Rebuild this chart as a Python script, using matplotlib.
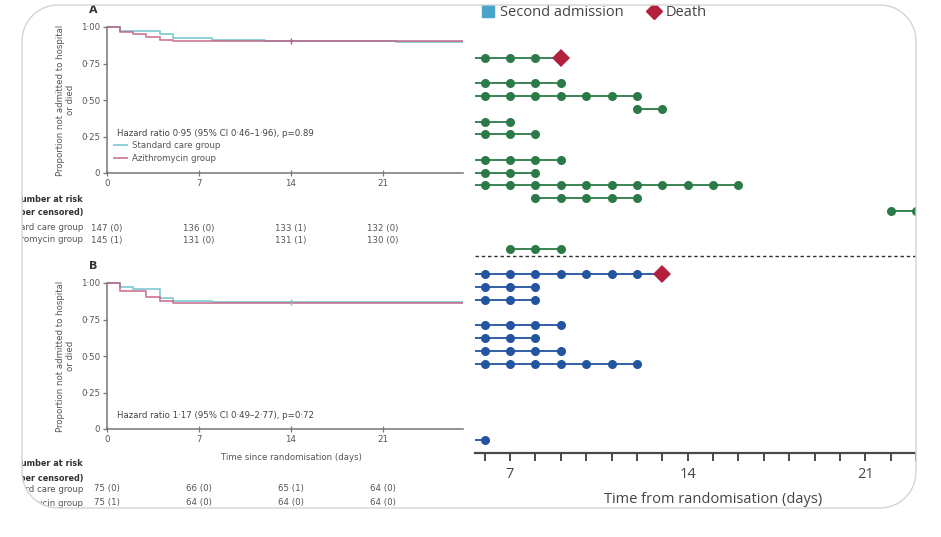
import numpy as np
import matplotlib
matplotlib.use('Agg')
import matplotlib.pyplot as plt
from matplotlib.lines import Line2D
from matplotlib.patches import Polygon, PathPatch
from matplotlib.path import Path
import matplotlib.transforms as mtrans

# ---------------- data ----------------
# Kaplan-Meier, panel A
A_std_t = [0, 1, 4, 5, 8, 12, 22, 28]
A_std_s = [1.0, 0.975, 0.95, 0.925, 0.912, 0.905, 0.895, 0.895]
A_azi_t = [0, 1, 2, 3, 4, 5, 28]
A_azi_s = [1.0, 0.967, 0.952, 0.932, 0.912, 0.903, 0.903]
# panel B
B_std_t = [0, 1, 2, 4, 5, 8, 28]
B_std_s = [1.0, 0.973, 0.957, 0.90, 0.88, 0.867, 0.867]
B_azi_t = [0, 1, 3, 4, 5, 28]
B_azi_s = [1.0, 0.946, 0.905, 0.878, 0.862, 0.862]

risk_days = [0, 7, 14, 21]
A_std_risk = ['147 (0)', '136 (0)', '133 (1)', '132 (0)']
A_azi_risk = ['145 (1)', '131 (0)', '131 (1)', '130 (0)']
B_std_risk = ['75 (0)', '66 (0)', '65 (1)', '64 (0)']
B_azi_risk = ['75 (1)', '64 (0)', '64 (0)', '64 (0)']

A_hr = 'Hazard ratio 0·95 (95% CI 0·46–1·96), p=0.89'
B_hr = 'Hazard ratio 1·17 (95% CI 0·49–2·77), p=0·72'

# swimmer plot (row index, line start day, visit days, death day)
green_rows = [0, 2, 3, 4, 5, 6, 8, 9, 10, 11, 12, 15]
green_start = [5, 5, 5, 12, 5, 5, 5, 5, 5, 8, 22, 7]
green_visits = [[6, 7, 8], [6, 7, 8, 9], [6, 7, 8, 9, 10, 11, 12], [12, 13],
                [6, 7], [6, 7, 8], [6, 7, 8, 9], [6, 7, 8],
                [6, 7, 8, 9, 10, 11, 12, 13, 14, 15, 16], [8, 9, 10, 11, 12],
                [22, 23], [7, 8, 9]]
green_death = [9, None, None, None, None, None, None, None, None, None, None, None]

blue_rows = [17, 18, 19, 21, 22, 23, 24, 30]
blue_start = [5, 5, 5, 5, 5, 5, 5, 5]
blue_visits = [[6, 7, 8, 9, 10, 11, 12], [6, 7, 8], [6, 7, 8], [6, 7, 8, 9],
               [6, 7, 8], [6, 7, 8, 9], [6, 7, 8, 9, 10, 11, 12], [6]]
blue_death = [13, None, None, None, None, None, None, None]
divider_row = 15.55

# ---------------- figure ----------------
W, H = 941, 537
fig = plt.figure(figsize=(W / 100, H / 100), dpi=100)

def box(l, t, r, b):
    return [l / W, 1 - b / H, (r - l) / W, (b - t) / H]

def fy(y):
    return 1 - y / H

NARROW = ['Liberation Sans Narrow', 'DejaVu Sans']
SANS = ['Open Sans', 'DejaVu Sans']
FS = 6.2
c_std = '#72c4cd'
c_azi = '#c0557a'
c_ax = '#777777'

# rounded frame (pixel coords, display origin bottom-left)
def rounded(l, t, r, b, rad, n=16):
    pts = []
    corners = [(r - rad, H - t - rad, 0), (l + rad, H - t - rad, 90),
               (l + rad, H - b + rad, 180), (r - rad, H - b + rad, 270)]
    for cx, cy, a0 in corners:
        ang = np.radians(np.linspace(a0, a0 + 90, n))
        pts += list(zip(cx + rad * np.cos(ang), cy + rad * np.sin(ang)))
    return np.array(pts)

inner = rounded(22, 5, 916, 508, 36)                # counter-clockwise
outer = np.array([[0, 0], [0, H], [W, H], [W, 0]])  # clockwise
verts = np.vstack([outer, outer[:1], inner, inner[:1]])
codes = ([Path.MOVETO] + [Path.LINETO] * 3 + [Path.CLOSEPOLY] +
         [Path.MOVETO] + [Path.LINETO] * (len(inner) - 1) + [Path.CLOSEPOLY])
mask = PathPatch(Path(verts, codes), facecolor='white', edgecolor='none',
                 transform=mtrans.IdentityTransform(), zorder=20)
fig.patches.append(mask)
frame = Polygon(inner, closed=True, facecolor='none', edgecolor='#d4d4d4',
                lw=1, transform=mtrans.IdentityTransform(), zorder=21)
fig.patches.append(frame)


def km_panel(y1, y0, letter_y, letter, std_t, std_s, azi_t, azi_s):
    ax = fig.add_axes(box(107, y1 - 7, 463, y0))
    ymax = 1 + 7 / (y0 - y1)
    ax.set_xlim(0, (463 - 107) / 13.14)
    ax.set_ylim(0, ymax)
    ax.step(std_t, std_s, where='post', color=c_std, lw=1.3, alpha=0.85,
            label='Standard care group')
    ax.step(azi_t, azi_s, where='post', color=c_azi, lw=1.3, alpha=0.75,
            label='Azithromycin group')
    for s in ['top', 'right']:
        ax.spines[s].set_visible(False)
    ax.spines['left'].set_bounds(0, 1)
    for s in ['left', 'bottom']:
        ax.spines[s].set_color(c_ax)
        ax.spines[s].set_linewidth(1.1)
    ax.set_yticks([0, 0.25, 0.5, 0.75, 1.0])
    ax.set_yticklabels(['0', '0·25', '0·50', '0·75', '1·00'])
    ax.set_xticks(risk_days)
    ax.tick_params(axis='both', colors=c_ax, labelcolor='#555555',
                   labelsize=FS, length=3, width=0.9, pad=2)
    ax.tick_params(axis='x', direction='inout', length=5)
    for lab in ax.get_xticklabels() + ax.get_yticklabels():
        lab.set_family(NARROW)
    ax.set_ylabel('Proportion not admitted to hospital\nor died', fontsize=FS,
                  color='#555555', family=NARROW, linespacing=1.1)
    ax.yaxis.set_label_coords((75 - 107) / 356, 0.5 / ymax)
    fig.text(89 / W, fy(letter_y), letter, fontsize=8, fontweight='bold',
             color='#333333', ha='left', va='center', family=NARROW)
    return ax


def add_texts(ax, hr, hr_y, std_risk, azi_risk, ry):
    fig.text(117 / W, fy(hr_y), hr, fontsize=FS, color='#444444',
             family=NARROW, ha='left', va='center')
    tr = mtrans.blended_transform_factory(ax.transData, fig.transFigure)
    fig.text(83 / W, fy(ry[0]), 'Number at risk', fontsize=5.9,
             fontweight='bold', color='#333333', family=NARROW,
             ha='right', va='center')
    fig.text(83 / W, fy(ry[1]), '(number censored)', fontsize=5.9,
             fontweight='bold', color='#333333', family=NARROW,
             ha='right', va='center')
    for name, vals, yy in [('Standard care group', std_risk, ry[2]),
                           ('Azithromycin group', azi_risk, ry[3])]:
        fig.text(83 / W, fy(yy), name, fontsize=FS, color='#555555',
                 family=NARROW, ha='right', va='center')
        for d, v in zip(risk_days, vals):
            ax.text(d, fy(yy), v, transform=tr, fontsize=FS, color='#555555',
                    family=NARROW, ha='center', va='center', clip_on=False)


axA = km_panel(27, 173, 10, 'A', A_std_t, A_std_s, A_azi_t, A_azi_s)
axA.plot([14], [0.903], marker='|', color=c_azi, ms=4, mew=1)
add_texts(axA, A_hr, 133, A_std_risk, A_azi_risk, [200, 212, 228, 240])
axA.legend(loc='upper left', bbox_to_anchor=(114 / W, fy(141)),
           bbox_transform=fig.transFigure, frameon=False,
           handlelength=1.5, handletextpad=0.6, labelspacing=0.45,
           borderaxespad=0, borderpad=0, labelcolor='#555555',
           prop={'family': NARROW, 'size': FS})

axB = km_panel(283, 429, 266, 'B', B_std_t, B_std_s, B_azi_t, B_azi_s)
axB.plot([14], [0.867], marker='|', color=c_std, ms=4, mew=1)
add_texts(axB, B_hr, 416, B_std_risk, B_azi_risk, [463, 478, 489, 503])
fig.text(291 / W, fy(457), 'Time since randomisation (days)', fontsize=FS,
         color='#555555', family=NARROW, ha='center', va='center')

# ---------------- swimmer panel ----------------
ax2 = fig.add_axes(box(475, 5, 916, 453))
ax2.set_facecolor('white')
ax2.set_xlim(5.62, 22.97)
ax2.set_ylim((453 - 58) / 12.73, (5 - 58) / 12.73)

def swim(rows, starts, visits, deaths, color):
    for r, s, v, d in zip(rows, starts, visits, deaths):
        end = d if d is not None else v[-1]
        ax2.plot([s, end], [r, r], color=color, lw=1.3, zorder=2)
        ax2.plot(v, [r] * len(v), 'o', color=color, ms=6.5, mew=0, zorder=3)
        if d is not None:
            ax2.plot([d], [r], 'D', color='#b3203c', ms=9, mew=0, zorder=4)

swim(green_rows, green_start, green_visits, green_death, '#2b7a47')
swim(blue_rows, blue_start, blue_visits, blue_death, '#22549f')
ax2.axhline(divider_row, color='#333333', lw=1, ls=(0, (2.5, 2)))

for s in ['top', 'right', 'left']:
    ax2.spines[s].set_visible(False)
ax2.spines['bottom'].set_color('#4a4a4a')
ax2.spines['bottom'].set_linewidth(1.6)
ax2.set_yticks([])
ax2.set_xticks(np.arange(6, 24), minor=True)
ax2.set_xticks([7, 14, 21])
ax2.tick_params(axis='x', which='both', colors='#4a4a4a', length=6, width=1.4,
                labelsize=10.5, labelcolor='#444444', pad=4)
for lab in ax2.get_xticklabels():
    lab.set_family(SANS)
ax2.set_xlabel('Time from randomisation (days)', fontsize=10.5,
               color='#444444', family=SANS)
ax2.xaxis.set_label_coords((713 - 475) / 441, (453 - 492) / 448)

handles = [Line2D([], [], ls='none', marker='s', color='#4aa3c8', ms=8,
                  label='Second admission'),
           Line2D([], [], ls='none', marker='D', color='#b3203c', ms=8,
                  label='Death')]
fig.legend(handles=handles, loc='center left',
           bbox_to_anchor=(481 / W, fy(13)), ncol=2, frameon=False,
           handletextpad=0.3, columnspacing=1.6, handlelength=1.0,
           borderaxespad=0, borderpad=0, labelcolor='#444444',
           prop={'family': SANS, 'size': 10.5})

fig.savefig('out.png', dpi=100)
